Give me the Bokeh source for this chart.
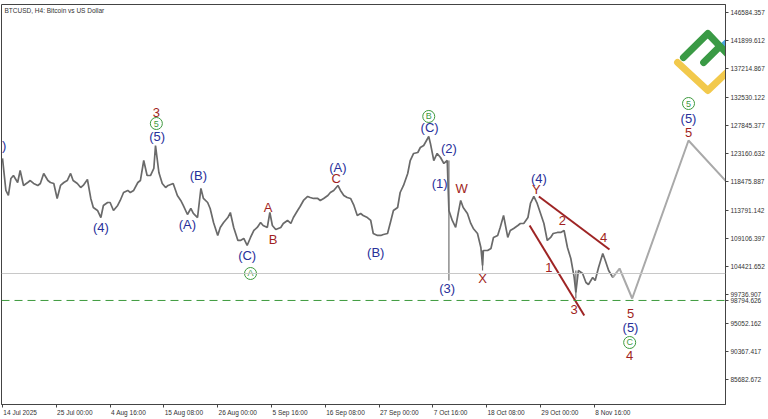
from bokeh.plotting import figure
from bokeh.models import Range1d, FixedTicker, Span, Label, PrintfTickFormatter, LinearAxis
from bokeh.core.properties import value
from bokeh.embed import file_html
from bokeh.resources import INLINE

# ---------------- data (H4 bar number since 14 Jul 2025 08:00, price in USD) ----------------
bars = [0, 4, 7, 10, 13, 18, 21, 25, 30, 33, 37, 42, 45, 49, 54, 57, 61, 65, 69, 73,
        77, 81, 84, 89, 93, 96, 101, 105, 108, 113, 117, 120, 125, 128, 132, 137, 140, 144, 149, 152,
        156, 161, 164, 168, 172, 176, 180, 182, 186, 190, 194, 197, 203, 208, 212, 215, 220, 224, 227, 232,
        236, 239, 244, 247, 251, 256, 259, 263, 268, 271, 275, 280, 283, 287, 291, 295, 299, 303, 307, 310,
        315, 318, 321, 325, 331, 334, 339, 343, 346, 351, 354, 358, 363, 366, 370, 375, 378, 382, 387, 390,
        394, 399, 402, 406, 410, 414, 418, 422, 426, 429, 434, 438, 441, 446, 450, 453, 458, 462, 465, 470,
        473, 477, 482, 485, 489, 494, 497, 501, 507, 509, 513, 517, 521, 525, 529, 531, 535, 539, 542, 545,
        548, 553, 557, 560, 565, 569, 571, 572, 577, 581, 584, 589, 592, 596, 601, 604, 608, 613, 616, 620,
        625, 628, 632, 636, 640, 644, 648, 652, 655, 660, 664, 668, 672, 676, 680, 682, 685, 690, 694, 697,
        702, 705, 709, 714, 717, 721, 726]
close = [122360, 117050, 116220, 119040, 119530, 118370, 120360, 117880, 118370, 118700,
         118210, 117880, 118210, 119870, 118700, 118370, 118210, 115720, 117880, 118370,
         118700, 119870, 118700, 118210, 117540, 117880, 118870, 115720, 114220, 113730,
         112560, 114560, 115050, 115050, 113730, 114560, 115390, 116710, 117050, 116710,
         117050, 118370, 118700, 122020, 119530, 119530, 120700, 124510, 120030, 118210,
         117540, 117880, 118210, 116220, 115390, 114560, 113060, 114060, 113230, 112560,
         117380, 115720, 115050, 114060, 111730, 109580, 110910, 111730, 112560, 113390,
         110910, 108750, 108750, 109080, 107920, 109250, 110410, 110910, 111730, 111240,
         110910, 113390, 111240, 110570, 110910, 111570, 112070, 111570, 112560, 113730,
         114390, 115390, 116050, 115880, 115720, 115720, 115390, 115720, 116220, 116710,
         117050, 117880, 117050, 116220, 115880, 115720, 114560, 112900, 113230, 112900,
         112560, 112070, 109910, 109580, 109580, 109740, 109910, 112070, 113730, 114220,
         116710, 117880, 119870, 122020, 123190, 123350, 124180, 124510, 126010, 124850,
         122020, 123190, 122520, 121530, 122020, 113730, 112070, 110910, 113230, 115390,
         114220, 113230, 111570, 110740, 109910, 107590, 104600, 107090, 107090, 107420,
         109250, 109580, 110910, 112900, 109250, 110410, 110740, 111240, 111570, 111570,
         112560, 114890, 116050, 114890, 113230, 111570, 108750, 109250, 109910, 110080,
         110080, 110410, 107590, 105760, 102610, 100120, 103770, 103270, 101780, 101450,
         102610, 102110, 104270, 106590, 105430, 103770, 102610]

wick_bar = [531, 571, 682]
wick_low = [102110, 103770, 99120]
wick_high = [122020, 107090, 103770]

proj_bar = [726, 734, 749, 816, 861]
proj_price = [102610, 104100, 99120, 125340, 118540]

wedge_upper_bar = [638, 722]
wedge_upper_price = [116050, 107250]
wedge_lower_bar = [627, 692]
wedge_lower_price = [111240, 96300]

support_level = 98794.626
current_price = 103271.0

y_ticks = [146584.357, 141899.612, 137214.867, 132530.122, 127845.377, 123160.632, 118475.887,
           113791.142, 109106.397, 104421.652, 99736.907, 95052.162, 90367.417, 85682.672]
x_tick_bars = [0, 64, 128, 192, 256, 320, 384, 448, 512, 576, 640, 704]
x_tick_labels = ["14 Jul 2025", "25 Jul 00:00", "4 Aug 16:00", "15 Aug 08:00", "26 Aug 00:00",
                 "5 Sep 16:00", "16 Sep 08:00", "27 Sep 00:00", "7 Oct 16:00", "18 Oct 08:00",
                 "29 Oct 00:00", "8 Nov 16:00"]

# wave labels
blue_text = [")", "(5)", "(4)", "(A)", "(B)", "(C)", "(A)", "(B)", "(C)", "(2)", "(1)", "(3)", "(4)", "(5)", "(5)"]
blue_bar = [2, 184, 117, 220, 233, 291, 399, 444, 508, 531, 520, 529, 638, 747, 816]
blue_price = [124510, 126010, 110900, 111400, 119530, 106260, 120860, 106760, 127500, 124020, 118210, 100780, 119040, 94310, 128990]

red_text = ["3", "A", "B", "C", "W", "X", "Y", "2", "4", "1", "3", "5", "4", "5"]
red_bar = [183, 316, 322, 397, 546, 571, 635, 666, 715, 650, 680, 747, 746, 816]
red_price = [129990, 114220, 108910, 119040, 117380, 102440, 117210, 112070, 109250, 104270, 97300, 96630, 89660, 126670]

green_text = ["5", "A", "B", "C", "5"]
green_bar = [183, 295, 507, 746, 816]
green_price = [128160, 103270, 129330, 91820, 131480]

# ---------------- styling ----------------
FONT = "Liberation Sans"
BLUE = "#28309a"
RED = "#a11f22"
GREEN = "#3d9a3d"
X0, X1 = -1.2, 860
Y0, Y1 = 81530, 147910
W, H = 767, 418
BORDER_L, BORDER_R = 1, 42
TICK_FS = 6.5

p = figure(width=W, height=H, output_backend="svg", toolbar_location=None,
           x_range=Range1d(X0, X1), y_range=Range1d(Y0, Y1),
           y_axis_location="right", min_border_left=BORDER_L, min_border_top=4,
           min_border_right=BORDER_R, min_border_bottom=14,
           background_fill_color="white", border_fill_color="white")
p.grid.visible = False
p.outline_line_color = "#444444"
p.outline_line_width = 1

# y axis (right) – price scale, plus the support level value
p.yaxis.ticker = FixedTicker(ticks=y_ticks + [support_level])
p.yaxis.formatter = PrintfTickFormatter(format="%.3f")

# x axis: tick marks only
p.xaxis.ticker = FixedTicker(ticks=x_tick_bars)
p.xaxis.major_label_overrides = {b: "" for b in x_tick_bars}
p.xaxis.major_label_standoff = 0
p.xaxis.major_label_text_font_size = "1px"

for ax in (p.xaxis[0], p.yaxis[0]):
    ax.major_label_text_font = FONT
    ax.major_tick_in = 0
    ax.major_tick_out = 3
    ax.minor_tick_out = 0
    ax.minor_tick_in = 0
    ax.axis_line_color = "#444444"
    ax.major_tick_line_color = "#444444"
p.yaxis.major_label_text_font_size = f"{TICK_FS}px"
p.yaxis.major_label_text_color = "#333333"
p.yaxis.major_label_standoff = 2

# second x axis carrying the date labels, shifted so each label starts at its tick
ARIAL_W = {"0": .556, "1": .556, "2": .556, "3": .556, "4": .556, "5": .556, "6": .556,
           "7": .556, "8": .556, "9": .556, " ": .278, ":": .278, "J": .5, "u": .556, "l": .222,
           "A": .667, "g": .556, "S": .667, "e": .556, "p": .556, "O": .778, "c": .5, "t": .278,
           "N": .722, "o": .556, "v": .5}
px_per_bar = (W - BORDER_L - BORDER_R) / (X1 - X0)
label_pos = []
for b, t in zip(x_tick_bars, x_tick_labels):
    wpx = sum(ARIAL_W.get(ch, .556) for ch in t) * TICK_FS
    label_pos.append(round(b + (wpx / 2 + 1) / px_per_bar))
date_axis = LinearAxis(ticker=FixedTicker(ticks=label_pos),
                       major_label_overrides={pos: t for pos, t in zip(label_pos, x_tick_labels)},
                       major_tick_out=0, major_tick_in=0, minor_tick_out=0, minor_tick_in=0,
                       axis_line_color=None, major_label_standoff=1,
                       major_label_text_font=FONT, major_label_text_font_size=f"{TICK_FS}px",
                       major_label_text_color="#333333")
p.add_layout(date_axis, "below")

# level lines
p.add_layout(Span(location=current_price, dimension="width", line_color="#c8c8c8", line_width=1))
p.add_layout(Span(location=support_level, dimension="width", line_color=GREEN, line_width=1,
                  line_dash="8 5"))

# price series
p.segment(x0=wick_bar, y0=wick_low, x1=wick_bar, y1=wick_high, line_color="#707070", line_width=1.2)
p.line(bars, close, line_color="#6a6a6a", line_width=1.7)

# projection
p.line(proj_bar, proj_price, line_color="#a9a9a9", line_width=2)

# wedge lines
p.line(wedge_upper_bar, wedge_upper_price, line_color="#9e2424", line_width=2)
p.line(wedge_lower_bar, wedge_lower_price, line_color="#9e2424", line_width=2)

# logo (decorative)
p.multi_line(xs=[[834, 852], [803, 839, 864]],
             ys=[[138290, 140780], [138290, 133640, 136960]],
             line_color=["#3a9a45", "#f2c94c"], line_width=7, line_cap="round",
             line_join="round")
p.line([858, 874], [141110, 143100], line_color="#4aa3df", line_width=7, line_cap="round")
p.line([810, 839, 872], [139120, 143100, 138290], line_color="#3a9a45", line_width=7,
       line_cap="round", line_join="round")

# wave labels
common = dict(text_font=value(FONT), text_font_size=value("13px"), text_align="center",
              text_baseline="middle")
p.text(x=blue_bar, y=blue_price, text=blue_text, text_color=BLUE, **common)
p.text(x=red_bar, y=red_price, text=red_text, text_color=RED, **common)
p.scatter(x=green_bar, y=green_price, marker="circle", size=12, fill_color=None,
          line_color=GREEN, line_width=1)
p.text(x=green_bar, y=green_price, text=green_text, text_color=GREEN,
       text_font=value(FONT), text_font_size=value("9px"), text_align="center",
       text_baseline="middle")

# title inside the chart
p.add_layout(Label(x=X0, y=Y1, text="BTCUSD, H4:  Bitcoin vs US Dollar", text_font=FONT,
                   text_font_size=f"{TICK_FS}px", text_color="#333333", text_baseline="top",
                   x_offset=3, y_offset=-2))

open("out.html", "w").write(file_html(p, INLINE))
